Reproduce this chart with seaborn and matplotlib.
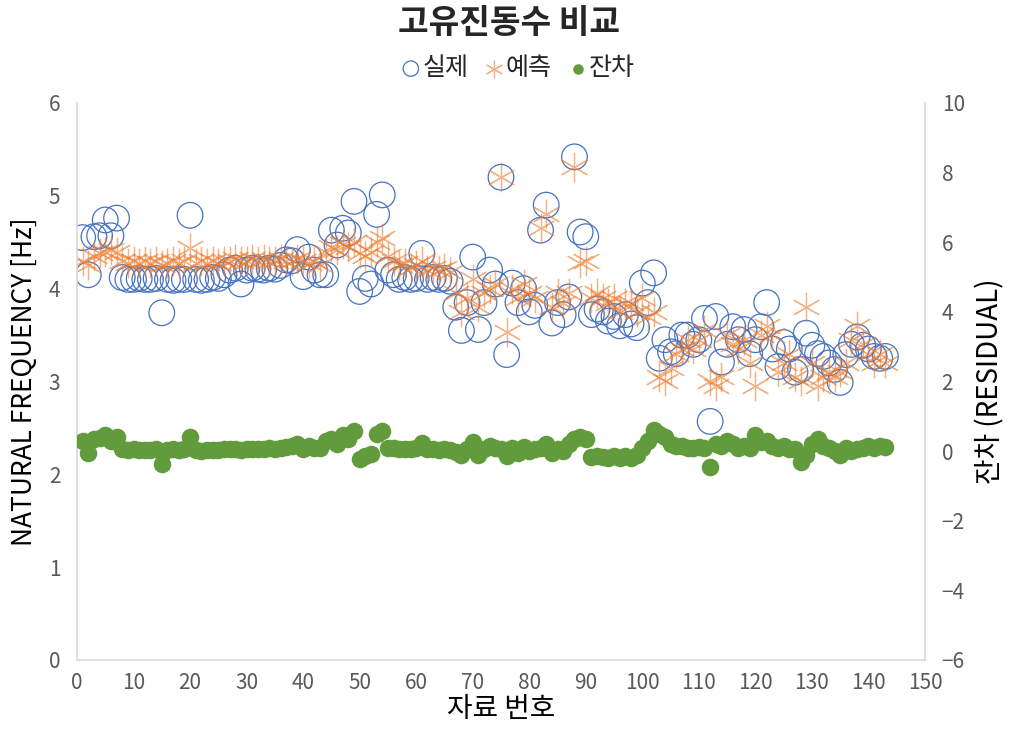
import numpy as np
import pandas as pd
import matplotlib
matplotlib.use('Agg')
import matplotlib.pyplot as plt
import seaborn as sns

# sample numbers (자료 번호)
sample_no = list(range(1, 144))

# measured natural frequency [Hz]
actual = [4.55, 4.15, 4.56, 4.57, 4.74, 4.57, 4.76,
          4.12, 4.1, 4.1, 4.11, 4.1, 4.1, 4.11,
          3.74,
          4.1, 4.09, 4.1, 4.1,
          4.79,
          4.1, 4.09, 4.1, 4.12, 4.11, 4.15,
          4.2, 4.22,
          4.05,
          4.2, 4.22, 4.21, 4.2, 4.22, 4.21, 4.25, 4.31,
          4.3, 4.42, 4.13, 4.34, 4.2, 4.15, 4.15, 4.63, 4.47, 4.65, 4.6, 4.94,
          3.97, 4.11, 4.05, 4.8, 5.01, 4.2,
          4.15, 4.1, 4.12, 4.1, 4.11, 4.38, 4.1, 4.12, 4.1, 4.11, 4.08,
          3.8, 3.55, 3.85, 4.34, 3.56, 3.85, 4.2, 4.05, 5.2, 3.29,
          4.06, 3.85, 4.0, 3.75, 3.82, 4.63, 4.9, 3.63, 3.85, 3.72, 3.91, 5.42, 4.61, 4.56,
          3.72, 3.78, 3.75, 3.65, 3.7, 3.6, 3.72, 3.62, 3.58, 4.06, 3.85, 4.17,
          3.25, 3.45, 3.32, 3.3, 3.5, 3.5, 3.4, 3.45, 3.68, 2.57, 3.7, 3.21,
          3.4, 3.59, 3.45, 3.56, 3.3, 3.45, 3.59, 3.85, 3.35, 3.16, 3.42, 3.35, 3.1, 3.13,
          3.52, 3.39, 3.3, 3.27, 3.2, 3.13, 2.99, 3.29, 3.4, 3.48, 3.39, 3.35, 3.27, 3.25, 3.27]

# predicted natural frequency [Hz]
predicted = [4.3, 4.25, 4.35, 4.38, 4.4, 4.42, 4.4,
             4.3, 4.28, 4.3, 4.28, 4.3, 4.28, 4.3, 4.25, 4.28, 4.3, 4.28, 4.3,
             4.44,
             4.28, 4.3, 4.28, 4.3, 4.28, 4.3, 4.3, 4.32, 4.3, 4.3, 4.32, 4.3, 4.32, 4.3, 4.3, 4.32, 4.3,
             4.3, 4.32, 4.3, 4.28, 4.3, 4.25,
             4.4, 4.45, 4.42, 4.48, 4.45, 4.5, 4.38, 4.35, 4.4, 4.5, 4.55,
             4.35, 4.3, 4.25, 4.28, 4.22, 4.25, 4.3, 4.2, 4.22, 4.2, 4.22, 4.18,
             3.95, 3.75, 3.9, 4.1, 3.8, 3.95, 4.0, 4.05, 5.2, 3.53,
             4.0, 3.9, 4.05, 3.95, 3.9, 4.65, 4.8, 3.8, 3.95, 3.85, 3.95, 5.31, 4.28, 4.3,
             3.9, 3.95, 3.9, 3.85, 3.9, 3.75, 3.85, 3.85, 3.75, 3.9, 3.7, 3.75,
             3.05, 3.0, 3.15, 3.3, 3.35, 3.45, 3.35, 3.45, 3.55, 3.0, 2.95, 3.05,
             3.5, 3.4, 3.35, 3.45, 3.2, 2.95, 3.5, 3.6, 3.5, 3.1, 3.2, 3.3, 3.05, 3.0,
             3.8, 3.2, 2.95, 3.05, 3.1, 3.05, 3.1, 3.2, 3.45, 3.6, 3.4, 3.3, 3.2, 3.3, 3.2]

# residual
residual = [0.3, -0.05, 0.35, 0.38, 0.45, 0.3, 0.4,
            0.05, 0.03, 0.05, 0.02, 0.04, 0.03, 0.05, -0.37, 0.03, 0.05, 0.02, 0.05,
            0.4,
            0.02, 0.0, 0.03, 0.02, 0.03, 0.05, 0.05, 0.07, 0.02, 0.06, 0.05, 0.07, 0.06, 0.08, 0.07, 0.1, 0.12,
            0.15, 0.2, 0.05, 0.15, 0.1, 0.08,
            0.3, 0.35, 0.2, 0.45, 0.35, 0.57, -0.22, -0.15, -0.08, 0.5, 0.57,
            0.1, 0.08, 0.05, 0.06, 0.05, 0.08, 0.22, 0.05, 0.06, 0.04, 0.05, 0.03,
            -0.02, -0.1, 0.05, 0.25, -0.1, 0.05, 0.15, 0.1, 0.05, -0.15,
            0.1, -0.05, 0.12, 0.0, 0.05, 0.1, 0.2, -0.05, 0.05, 0.0, 0.2, 0.35, 0.4, 0.35,
            -0.18, -0.15, -0.18, -0.2, -0.15, -0.2, -0.15, -0.2, -0.1, 0.1, 0.3, 0.6,
            0.5, 0.4, 0.2, 0.15, 0.15, 0.1, 0.1, 0.12, 0.1, -0.45, 0.2, 0.15,
            0.3, 0.2, 0.1, 0.15, 0.1, 0.45, 0.25, 0.3, 0.15, 0.1, 0.15, 0.05, 0.05, -0.3,
            -0.1, 0.2, 0.35, 0.15, 0.1, 0.0, -0.1, 0.1, 0.0, 0.05, 0.1, 0.15, 0.1, 0.15, 0.12]

df = pd.DataFrame({'no': sample_no, 'actual': actual,
                   'predicted': predicted, 'residual': residual})

sns.set_style('white')
plt.rcParams['font.family'] = ['Noto Sans CJK KR', 'DejaVu Sans']
plt.rcParams['axes.unicode_minus'] = True

BLUE = '#4472C4'
ORANGE = '#ED7D31'
GREEN = '#629B3C'
GRAY = '#D9D9D9'
TXT = '#595959'

fig = plt.figure(figsize=(10.17, 7.33), dpi=100)
ax = fig.add_axes([0.0757, 0.0996, 0.8338, 0.7599])
ax2 = ax.twinx()

sns.scatterplot(x='no', y='actual', data=df, ax=ax, marker='o', s=340,
                facecolors='none', edgecolor=BLUE, linewidth=0.9, label='실제', legend=False)
sns.scatterplot(x='no', y='predicted', data=df, ax=ax, marker=(6, 2, 0), s=420,
                color=ORANGE, linewidth=0.9, alpha=0.6, label='예측', legend=False)
sns.scatterplot(x='no', y='residual', data=df, ax=ax2, marker='o', s=160,
                color=GREEN, edgecolor=GREEN, linewidth=0, label='잔차', legend=False)

ax.set_xlim(0, 150)
ax.set_ylim(0, 6)
ax2.set_ylim(-6, 10)
ax.set_xticks(range(0, 151, 10))
ax.set_yticks(range(0, 7))
ax2.set_yticks(range(-6, 11, 2))

for a in (ax, ax2):
    for s in a.spines.values():
        s.set_visible(False)
ax.spines['left'].set_visible(True)
ax.spines['bottom'].set_visible(True)
ax2.spines['right'].set_visible(True)
for sp in (ax.spines['left'], ax.spines['bottom'], ax2.spines['right']):
    sp.set_color(GRAY)
    sp.set_linewidth(1.2)

ax.tick_params(axis='x', labelsize=15, colors=TXT, length=5, color=GRAY, pad=4)
ax.tick_params(axis='y', labelsize=15, colors=TXT, length=0, pad=12)
ax2.tick_params(axis='y', labelsize=15, colors=TXT, length=0, pad=12)

ax.set_xlabel('자료 번호', fontsize=20, color='black', labelpad=0)
ax.set_ylabel('NATURAL FREQUENCY [Hz]', fontsize=19, color='black', labelpad=8)
ax2.set_ylabel('잔차 (RESIDUAL)', fontsize=20, color='black', labelpad=8)

fig.suptitle('고유진동수 비교', fontsize=24, fontweight='bold', y=0.99)

h1, l1 = ax.get_legend_handles_labels()
h2, l2 = ax2.get_legend_handles_labels()
fig.legend(h1 + h2, l1 + l2, loc='center', bbox_to_anchor=(0.505, 0.907), ncol=3,
           frameon=False, fontsize=18, markerscale=0.6, handletextpad=-0.3,
           handlelength=1.5, columnspacing=0.3)

fig.savefig('out.png', dpi=100)
